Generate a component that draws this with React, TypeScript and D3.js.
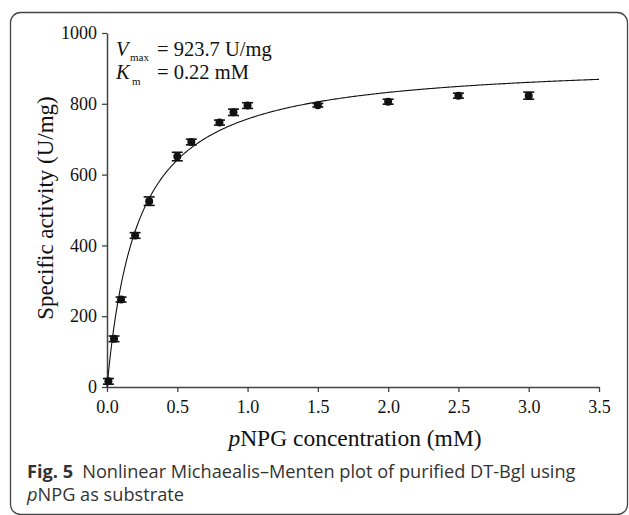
import React, { useEffect, useRef } from 'react';
import * as d3 from 'd3';

// substrate concentration (mM)
const concentrations = [0.01, 0.05, 0.1, 0.2, 0.3, 0.5, 0.6, 0.8, 0.9, 1.0, 1.5, 2.0, 2.5, 3.0];
// specific activity (U/mg)
const activities = [16, 136, 247, 428, 525, 651, 692, 747, 776, 795, 796, 806, 823, 823];
// error (+/-)
const errors = [8, 8, 7, 8, 12, 12, 8, 7, 9, 8, 5, 7, 7, 10];

const xTicks = [0, 0.5, 1.0, 1.5, 2.0, 2.5, 3.0, 3.5];
const yTicks = [0, 200, 400, 600, 800, 1000];

// fitted Michaelis-Menten parameters
const VMAX = 923.7;
const KM = 0.22;

const App = () => {
  const ref = useRef<SVGSVGElement>(null);

  useEffect(() => {
    const svg = d3.select(ref.current);
    svg.selectAll('*').remove();

    const serif = '"Liberation Serif", "Times New Roman", serif';
    const sans = '"Open Sans", "Noto Sans", sans-serif';

    // panel border
    svg.append('rect')
      .attr('x', 10.5).attr('y', 12.5)
      .attr('width', 617).attr('height', 502)
      .attr('rx', 10)
      .attr('fill', 'none')
      .attr('stroke', '#444')
      .attr('stroke-width', 1.3);

    const x = d3.scaleLinear().domain([0, 3.5]).range([107, 599]);
    const y = d3.scaleLinear().domain([0, 1000]).range([387, 33]);

    // axes
    const xAxis = svg.append('g')
      .attr('transform', `translate(0, ${y(0)})`)
      .call(d3.axisBottom(x).tickValues(xTicks).tickFormat(d3.format('.1f')).tickSize(5).tickSizeOuter(0).tickPadding(8));
    const yAxis = svg.append('g')
      .attr('transform', `translate(${x(0)}, 0)`)
      .call(d3.axisLeft(y).tickValues(yTicks).tickFormat(d3.format('d')).tickSize(5).tickSizeOuter(0).tickPadding(5));

    [xAxis, yAxis].forEach(a => {
      a.attr('font-family', serif).attr('font-size', 18);
      a.select('.domain').attr('stroke', '#444').attr('stroke-width', 1.5);
      a.selectAll('.tick line').attr('stroke', '#444').attr('stroke-width', 1.3);
      a.selectAll('.tick text')
        .attr('fill', '#111')
        .attr('font-family', serif)
        .attr('font-size', 18);
    });

    // fitted curve
    const curveX = d3.range(0, 3.5001, 0.01);
    const line = d3.line<number>()
      .x(d => x(d))
      .y(d => y(VMAX * d / (KM + d)));
    svg.append('path')
      .datum(curveX)
      .attr('d', line)
      .attr('fill', 'none')
      .attr('stroke', '#111')
      .attr('stroke-width', 1.1);

    // error bars + points
    const pts = concentrations.map((c, i) => ({ c, v: activities[i], e: errors[i] }));
    const g = svg.append('g');
    pts.forEach(p => {
      const cx = x(p.c);
      g.append('line')
        .attr('x1', cx).attr('x2', cx)
        .attr('y1', y(p.v - p.e)).attr('y2', y(p.v + p.e))
        .attr('stroke', '#111').attr('stroke-width', 1.5);
      [p.v - p.e, p.v + p.e].forEach(v => {
        g.append('line')
          .attr('x1', cx - 5.5).attr('x2', cx + 5.5)
          .attr('y1', y(v)).attr('y2', y(v))
          .attr('stroke', '#111').attr('stroke-width', 1.6);
      });
      g.append('circle')
        .attr('cx', cx).attr('cy', y(p.v))
        .attr('r', 4)
        .attr('fill', '#111');
    });

    // annotation
    const ann = svg.append('g').attr('font-family', serif).attr('fill', '#111');
    const t1 = ann.append('text').attr('x', 116).attr('y', 56).attr('font-size', 20.5);
    t1.append('tspan').text('V').attr('font-style', 'italic');
    t1.append('tspan').text('max').attr('font-size', 11).attr('x', 130).attr('dy', 5);
    t1.append('tspan').text('= 923.7 U/mg').attr('x', 157).attr('dy', -5);
    const t2 = ann.append('text').attr('x', 116).attr('y', 79).attr('font-size', 20.5);
    t2.append('tspan').text('K').attr('font-style', 'italic');
    t2.append('tspan').text('m').attr('font-size', 11).attr('x', 132).attr('dy', 6);
    t2.append('tspan').text('= 0.22 mM').attr('x', 157).attr('dy', -6);

    // axis titles
    const xt = svg.append('text')
      .attr('x', 355).attr('y', 446)
      .attr('text-anchor', 'middle')
      .attr('font-family', serif).attr('font-size', 23.5)
      .attr('fill', '#111');
    xt.append('tspan').text('p').attr('font-style', 'italic');
    xt.append('tspan').text('NPG concentration (mM)');

    svg.append('text')
      .attr('transform', 'translate(53, 208) rotate(-90)')
      .attr('text-anchor', 'middle')
      .attr('font-family', serif).attr('font-size', 23)
      .attr('fill', '#111')
      .text('Specific activity (U/mg)');

    // caption
    const cap = svg.append('g').attr('font-family', sans).attr('font-size', 18.2).attr('fill', '#333');
    const c1 = cap.append('text').attr('x', 27).attr('y', 478);
    c1.append('tspan').text('Fig. 5').attr('font-weight', 'bold');
    c1.append('tspan').text('\u2002Nonlinear Michaealis\u2013Menten plot of purified DT-Bgl using');
    const c2 = cap.append('text').attr('x', 27).attr('y', 501);
    c2.append('tspan').text('p').attr('font-style', 'italic');
    c2.append('tspan').text('NPG as substrate');

    return () => {
      svg.selectAll('*').remove();
    };
  }, []);

  return (
    <svg
      ref={ref}
      width={629}
      height={515}
      style={{ position: 'absolute', left: 0, top: 0, background: '#fff' }}
    />
  );
};

export default App;
